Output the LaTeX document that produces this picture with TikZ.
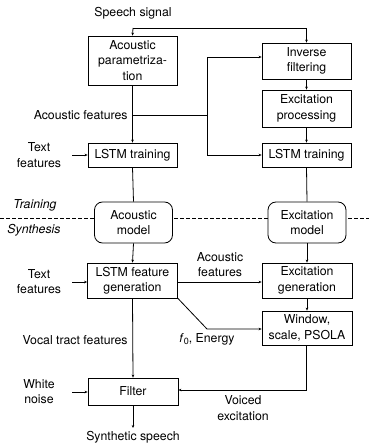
\documentclass[tikz,border=0pt]{standalone}
\usepackage{fontspec}
\setmainfont{TeX Gyre Heros}
\usetikzlibrary{arrows.meta}
\begin{document}
\begin{tikzpicture}[x=1pt,y=-1pt,
  font=\fontsize{12.3}{15.5}\selectfont,
  line width=0.8pt,
  >={Stealth[length=3pt,width=2.6pt]},
  blockbox/.style={draw,fill=white,minimum width=89pt,align=center,inner sep=1pt},
  modelbox/.style={draw,fill=white,rounded corners=8pt,minimum width=78pt,minimum height=41pt,align=center,inner sep=1pt},
  lbl/.style={align=center,inner sep=0pt},
  phase/.style={inner sep=0pt,font=\fontsize{12.3}{15.5}\selectfont\itshape}]
\useasboundingbox (0,0) rectangle (369,443);

% phase separator
\draw[dash pattern=on 3.5pt off 2.5pt,line width=0.6pt] (0,218) -- (369,218);
\node[phase] (tr) at (35,205) {Training};
\node[phase] (sy) at (34,230) {Synthesis};

% blocks
\node[blockbox,minimum height=49pt] (ap) at (132.5,60.5) {Acoustic\\parametriza-\\tion};
\node[blockbox,minimum height=36pt] (inv) at (306.5,61) {Inverse\\filtering};
\node[blockbox,minimum height=37pt] (exp) at (306.5,108.5) {Excitation\\processing};
\node[blockbox,minimum height=24pt] (lstmL) at (132.5,155) {LSTM training};
\node[blockbox,minimum height=24pt] (lstmR) at (306.5,155) {LSTM training};
\node[modelbox] (am) at (133.5,222.5) {Acoustic\\model};
\node[modelbox] (em) at (307,222.5) {Excitation\\model};
\node[blockbox,minimum width=90pt,minimum height=35pt] (gen) at (132.5,280.5) {LSTM feature\\generation};
\node[blockbox,minimum width=90pt,minimum height=35pt] (exg) at (307,280.5) {Excitation\\generation};
\node[blockbox,minimum width=90pt,minimum height=34pt] (win) at (307,328) {Window,\\scale, PSOLA};
\node[blockbox,minimum width=90pt,minimum height=27pt] (filt) at (133,391.5) {Filter};

% labels
\node[lbl] (ss) at (133,13) {Speech signal};
\node[lbl,anchor=east] (af1) at (128,115) {Acoustic features};
\node[lbl] (tf1) at (39,155) {Text\\features};
\node[lbl] (tf2) at (39,281.5) {Text\\features};
\node[lbl] (af2) at (220,264.5) {Acoustic\\features};
\node[lbl] (f0) at (207,339) {\textit{f}\raisebox{-0.35ex}{\fontsize{9}{10}\selectfont 0}, Energy};
\node[lbl,anchor=east] (vt) at (128,340) {Vocal tract features};
\node[lbl] (wn) at (39,391.5) {White\\noise};
\node[lbl] (ve) at (243,408) {Voiced\\excitation};
\node[lbl] (syn) at (133,437) {Synthetic speech};

% junction points
\coordinate (sp) at (133,28);
\coordinate (afj) at (133,115);
\coordinate (afv) at (207,115);
\coordinate (fk) at (207,329);
\coordinate (vk) at (306,390);
\coordinate (out) at (133,428);
\coordinate (tf1s) at (72,155);
\coordinate (tf2s) at (72,282);
\coordinate (wns) at (72,392);

% connectors
\draw[->] (sp) -- (ap.north);
\draw[->] (sp) -| (inv.north);
\draw[->] (ap.south) -- (lstmL.north);
\draw (afj) -- (afv);
\draw[->] (afv) |- (inv.west |- 0,57);
\draw[->] (afv) |- (lstmR.west);
\draw[->] (inv.south) -- (exp.north);
\draw[->] (exp.south) -- (lstmR.north);
\draw[->] (tf1s) -- (lstmL.west |- tf1s);
\draw (lstmL.south) -- (am.north);
\draw (lstmR.south) -- (em.north);
\draw[->] (am.south) -- (gen.north);
\draw[->] (em.south) -- (exg.north);
\draw[->] (tf2s) -- (gen.west |- tf2s);
\draw[->] (gen.east |- 0,282) -- (exg.west |- 0,282);
\draw[->] (gen.south east) -- (fk) -- (win.west |- fk);
\draw[->] (exg.south) -- (win.north);
\draw[->] (gen.south) -- (filt.north);
\draw[->] (wns) -- (filt.west |- wns);
\draw[->] (win.south -| vk) -- (vk) -- (filt.east |- vk);
\draw[->] (filt.south) -- (out);
\end{tikzpicture}
\end{document}
